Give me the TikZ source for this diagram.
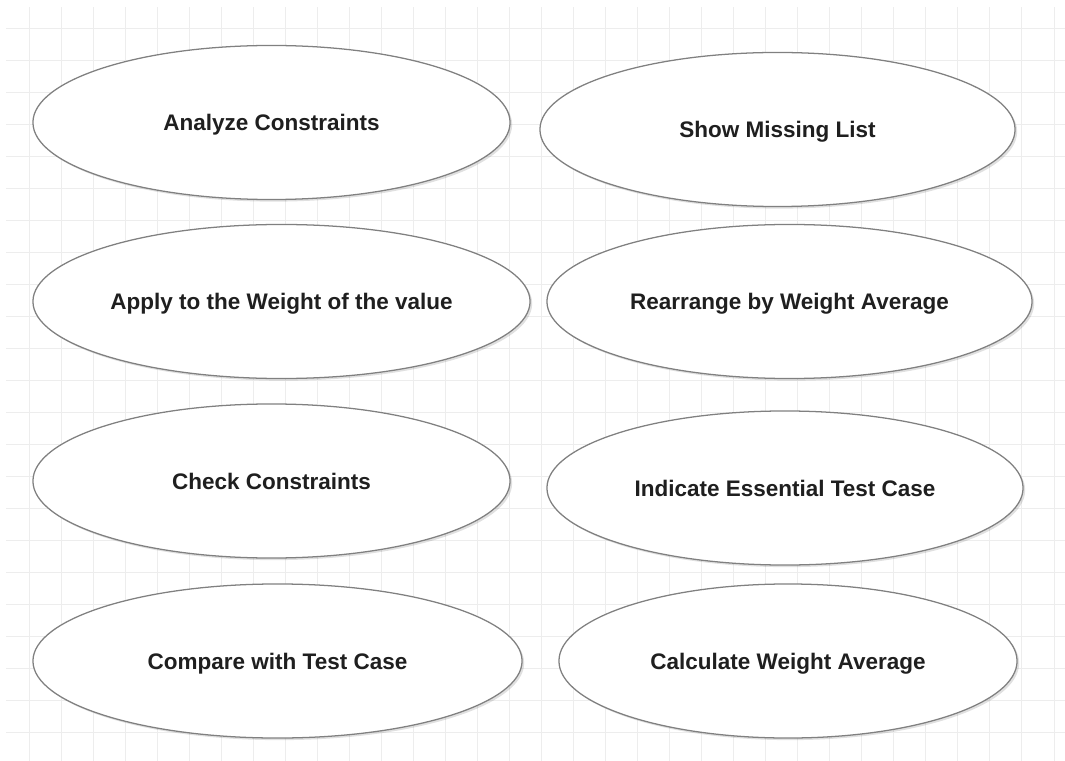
\documentclass[tikz,border=0pt]{standalone}
\usepackage{fontspec}
\setmainfont{Liberation Sans}
\usetikzlibrary{shapes.geometric, shadows}

\begin{document}
\begin{tikzpicture}[x=0.025cm, y=-0.025cm,
                    gridline/.style={draw=black!7, line width=0.7pt},
                    usecase/.style={ellipse, draw=black!50, line width=0.9pt, fill=white,
                                    inner sep=0pt, minimum height=3.85cm, text depth=0pt,
                                    text=black!88, font=\fontsize{16pt}{19pt}\selectfont\bfseries,
                                    drop shadow={shadow xshift=1.5pt, shadow yshift=-1.5pt,
                                                 opacity=.12, fill=black}},
                    ]

\useasboundingbox (0,0) rectangle (1065,761);

% background grid
\begin{scope}
\clip (6,7) rectangle (1065,761);
\foreach \k in {0,...,34} \draw[gridline] ({-3+32.03*\k},7) -- ({-3+32.03*\k},761);
\foreach \k in {0,...,24} \draw[gridline] (6,{-4+32*\k}) -- (1065,{-4+32*\k});
\end{scope}

% left column
\node[usecase, minimum width=11.925cm] (analyze) at (271.5,122.5) {Analyze Constraints};
\node[usecase, minimum width=12.425cm] (apply) at (281.5,301.5) {Apply to the Weight of the value};
\node[usecase, minimum width=11.925cm] (check) at (271.5,481) {Check Constraints};
\node[usecase, minimum width=12.225cm] (compare) at (277.5,661) {Compare with Test Case};

% right column
\node[usecase, minimum width=11.875cm] (missing) at (777.5,129.5) {Show Missing List};
\node[usecase, minimum width=12.125cm] (rearrange) at (789.5,301.5) {Rearrange by Weight Average};
\node[usecase, minimum width=11.9cm] (indicate) at (785,488) {Indicate Essential Test Case};
\node[usecase, minimum width=11.45cm] (calculate) at (788,661) {Calculate Weight Average};
\end{tikzpicture}
\end{document}
